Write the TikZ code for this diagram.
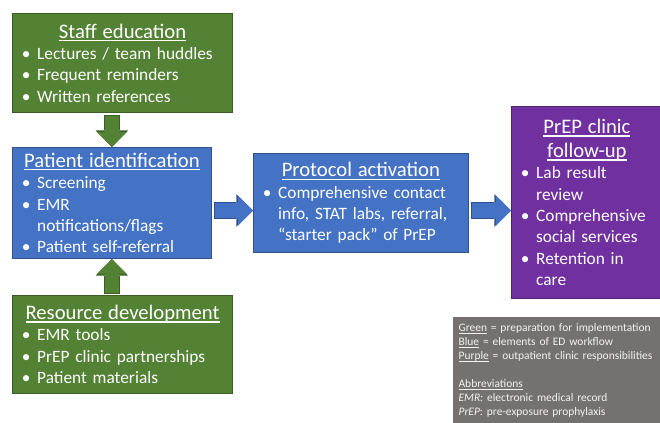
\documentclass[tikz,border=0pt]{standalone}
\usepackage{fontspec}
\setmainfont{Carlito}
\usetikzlibrary{arrows.meta,calc}

\definecolor{prepgreen}{HTML}{548235}
\definecolor{prepgreenline}{HTML}{3B5E26}
\definecolor{edblue}{HTML}{4472C4}
\definecolor{edblueline}{HTML}{2F528F}
\definecolor{clinicpurple}{HTML}{7030A0}
\definecolor{clinicpurpleline}{HTML}{4E2272}
\definecolor{keygray}{HTML}{767171}

\newcommand{\uln}[1]{\leavevmode\setbox0\hbox{#1}\rlap{\rule[-0.14em]{\wd0}{0.055em}}\box0\relax}
\newcommand{\boxtitle}[1]{{\fontsize{15.5}{18}\selectfont\centering\uln{#1}\par}}
\newcommand{\lbr}{\hfil\break}
\newenvironment{steplist}{\begin{list}{\textbullet}{%
    \setlength{\leftmargin}{13.5pt}\setlength{\labelwidth}{13.5pt}%
    \setlength{\labelsep}{0pt}\setlength{\itemsep}{0pt}\setlength{\parsep}{0pt}%
    \setlength{\topsep}{0pt}\setlength{\partopsep}{0pt}\setlength{\itemindent}{0pt}%
    \renewcommand{\makelabel}[1]{\hspace{2pt}##1\hfil}}\raggedright}{\end{list}}

\tikzset{
  stepbox/.style={draw=#1line, fill=#1, text=white, line width=0.8pt, anchor=north west,
    inner xsep=5pt, inner ysep=0pt, align=left, font=\fontsize{13}{16}\selectfont},
  arrowedge/.style={draw=#1line, line width=12.5pt,
    -{Triangle[length=12.5pt,width=24.5pt,line width=0pt]}},
  arrowfill/.style={draw=#1, line width=11pt, shorten <=0.75pt,
    -{Triangle[length=11.25pt,width=22.5pt,line width=0pt]}},
}

\begin{document}
\begin{tikzpicture}[x=0.75pt,y=-0.75pt]
  \useasboundingbox (0,0) rectangle (660,422);

  % the four steps
  \node[stepbox=prepgreen, text width=155pt, minimum height=74.25pt] (staff) at (12,13) {%
    \boxtitle{Staff education}
    \begin{steplist}
      \item Lectures / team huddles
      \item Frequent reminders
      \item Written references
    \end{steplist}};
  \node[stepbox=edblue, text width=139pt, minimum height=83.25pt] (pid) at (12,147) {%
    \boxtitle{Patient identification}
    \begin{steplist}
      \item Screening
      \item EMR\lbr notifications/flags
      \item Patient self-referral
    \end{steplist}};
  \node[stepbox=prepgreen, text width=155pt, minimum height=73.5pt] (res) at (12,295) {%
    \boxtitle{Resource development}
    \begin{steplist}
      \item EMR tools
      \item PrEP clinic partnerships
      \item Patient materials
    \end{steplist}};
  \node[stepbox=edblue, text width=151pt, minimum height=74.25pt] (prot) at (253,153) {%
    \boxtitle{Protocol activation}
    \begin{steplist}
      \item Comprehensive contact\lbr info, STAT labs, referral,\lbr “starter pack” of PrEP
    \end{steplist}};
  \node[stepbox=clinicpurple, text width=103pt, minimum height=144pt] (fup) at (511,106) {%
    {\fontsize{15.5}{18}\selectfont\centering\uln{PrEP clinic}\par\uln{follow-up}\par}
    \begin{steplist}
      \item Lab result\lbr review
      \item Comprehensive\lbr social services
      \item Retention in\lbr care
    \end{steplist}};

  % legend
  \node[anchor=north west, fill=keygray, text=white!95!black, text width=147pt,
    minimum height=80pt, inner xsep=4pt, inner ysep=0pt, align=left,
    font=\fontsize{8.6}{10.5}\selectfont] (key) at (453,317) {%
    \uln{Green} = preparation for implementation\\
    \uln{Blue} = elements of ED workflow\\
    \uln{Purple} = outpatient clinic responsibilities\\[10.5pt]
    \uln{Abbreviations}\\
    \textit{EMR:} electronic medical record\\
    \textit{PrEP}: pre-exposure prophylaxis};

  % block arrows
  \draw[arrowedge=prepgreen] ($(pid.north |- staff.south)+(0,1.5)$) -- (pid.north);
  \draw[arrowfill=prepgreen] ($(pid.north |- staff.south)+(0,1.5)$) -- (pid.north);
  \draw[arrowedge=prepgreen] ($(pid.south |- res.north)+(0,-1.5)$) -- (pid.south);
  \draw[arrowfill=prepgreen] ($(pid.south |- res.north)+(0,-1.5)$) -- (pid.south);
  \draw[arrowedge=edblue] ($(pid.east)+(2,7.5)$) -- ($(prot.west)+(0,7.5)$);
  \draw[arrowfill=edblue] ($(pid.east)+(2,7.5)$) -- ($(prot.west)+(0,7.5)$);
  \draw[arrowedge=edblue] ($(prot.east)+(2,7.5)$) -- ($(prot.east -| fup.west)+(0,7.5)$);
  \draw[arrowfill=edblue] ($(prot.east)+(2,7.5)$) -- ($(prot.east -| fup.west)+(0,7.5)$);
\end{tikzpicture}
\end{document}
